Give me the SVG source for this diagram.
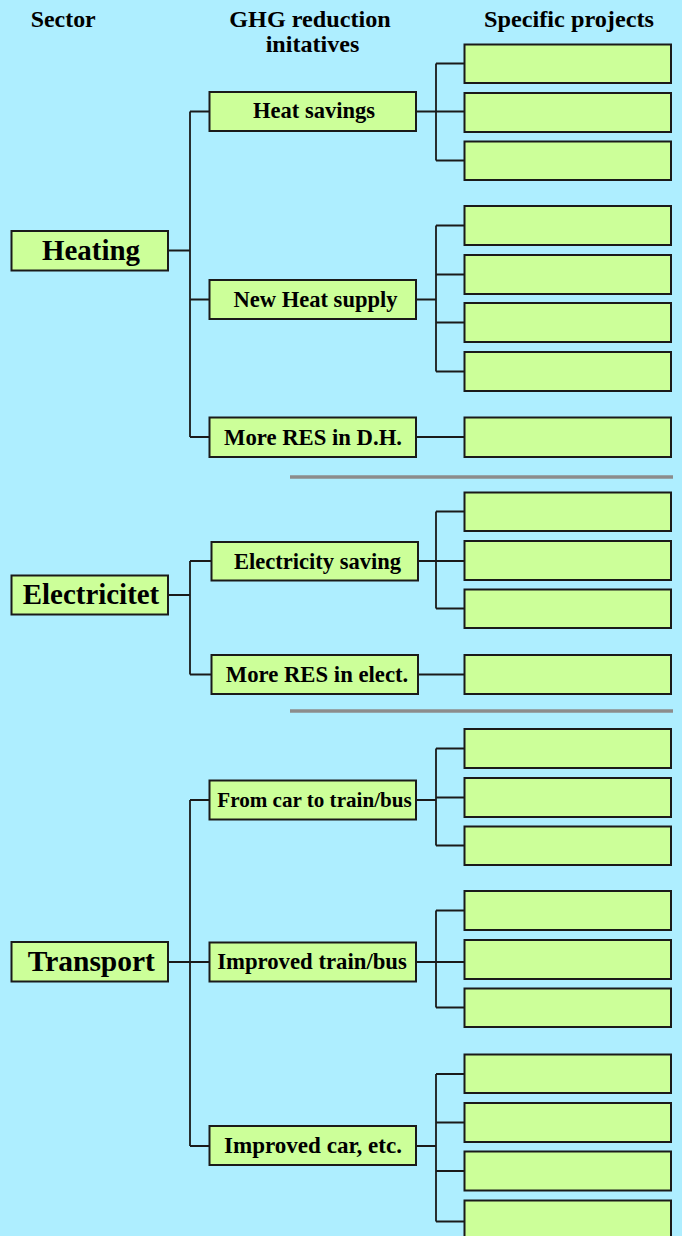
<svg xmlns="http://www.w3.org/2000/svg" width="682" height="1236" viewBox="0 0 682 1236">
<style>
.bg{fill:#AEEEFF}
.box{fill:#CCFF99;stroke:#1a1a1a;stroke-width:2}
.ln{fill:none;stroke:#1a1a1a;stroke-width:1.8}
.sep{stroke:#8C8C8C;stroke-width:3.5}
text{font-family:"Liberation Serif","Times New Roman",serif;font-weight:bold;fill:#000;text-anchor:middle}
.h{font-size:24px}
.s{font-size:30px}
.i{font-size:23px}
</style>
<rect class="bg" x="0" y="0" width="682" height="1236"/>
<g id="headers">
<text class="h" x="63.2" y="27" textLength="65" lengthAdjust="spacingAndGlyphs">Sector</text>
<text class="h" x="310" y="27" textLength="161.4" lengthAdjust="spacingAndGlyphs">GHG reduction</text>
<text class="h" x="312.5" y="51.5" textLength="93.6" lengthAdjust="spacingAndGlyphs">initatives</text>
<text class="h" x="569" y="27" textLength="170" lengthAdjust="spacingAndGlyphs">Specific projects</text>
</g>
<g id="connectors">
<path class="ln" d="M168 250.5H190M190 111.5V437M190 111.5H209M190 299.5H209M190 437H209"/>
<path class="ln" d="M416 111.5H464M436 63.5V160.5M436 63.5H464M436 160.5H464"/>
<path class="ln" d="M416 299.5H436M436 225.5V371.5M436 225.5H464M436 274.5H464M436 322.5H464M436 371.5H464"/>
<path class="ln" d="M416 437H464"/>
<path class="ln" d="M168 595H190M190 561V674.5M190 561H211M190 674.5H211"/>
<path class="ln" d="M418 561H464M436 511.5V608.5M436 511.5H464M436 608.5H464"/>
<path class="ln" d="M418 674.5H464"/>
<path class="ln" d="M168 962H209M190 800V1146M190 800H209M190 1146H209"/>
<path class="ln" d="M416 800H436M436 748.5V845.5M436 748.5H464M436 797.5H464M436 845.5H464"/>
<path class="ln" d="M416 962H464M436 910.5V1007.5M436 910.5H464M436 1007.5H464"/>
<path class="ln" d="M416 1146H436M436 1074V1221.5M436 1074H464M436 1122.5H464M436 1171H464M436 1221.5H464"/>
</g>
<g id="separators">
<line class="sep" x1="290" y1="477" x2="673" y2="477"/>
<line class="sep" x1="290" y1="711" x2="673" y2="711"/>
</g>
<g id="heating">
<rect class="box" x="11.5" y="231" width="156.5" height="39.5"/>
<text class="s" x="91" y="259.5" textLength="98" lengthAdjust="spacingAndGlyphs">Heating</text>
</g>
<g id="heat-savings">
<rect class="box" x="209.5" y="92" width="206.5" height="39"/>
<text class="i" x="314" y="118" textLength="122" lengthAdjust="spacingAndGlyphs">Heat savings</text>
</g>
<g id="new-heat-supply">
<rect class="box" x="209.5" y="280" width="206.5" height="39"/>
<text class="i" x="315.5" y="306.5" textLength="164" lengthAdjust="spacingAndGlyphs">New Heat supply</text>
</g>
<g id="more-res-dh">
<rect class="box" x="209.5" y="417.5" width="206.5" height="39.5"/>
<text class="i" x="313" y="444.5" textLength="178" lengthAdjust="spacingAndGlyphs">More RES in D.H.</text>
</g>
<g id="electricitet">
<rect class="box" x="11.5" y="575.5" width="156.5" height="39"/>
<text class="s" x="91" y="603.5" textLength="136.5" lengthAdjust="spacingAndGlyphs">Electricitet</text>
</g>
<g id="electricity-saving">
<rect class="box" x="211.5" y="542" width="206.5" height="38.5"/>
<text class="i" x="317.5" y="568.5" textLength="167" lengthAdjust="spacingAndGlyphs">Electricity saving</text>
</g>
<g id="more-res-elect">
<rect class="box" x="211.5" y="655" width="206.5" height="39"/>
<text class="i" x="317" y="681.5" textLength="182.5" lengthAdjust="spacingAndGlyphs">More RES in elect.</text>
</g>
<g id="transport">
<rect class="box" x="11.5" y="942" width="156.5" height="39.5"/>
<text class="s" x="91.3" y="970.5" textLength="127.3" lengthAdjust="spacingAndGlyphs">Transport</text>
</g>
<g id="car-to-train">
<rect class="box" x="209.5" y="780.5" width="206.5" height="39"/>
<text class="i" x="314.5" y="806.5" textLength="194.4" lengthAdjust="spacingAndGlyphs" style="font-size:22px">From car to train/bus</text>
</g>
<g id="improved-train">
<rect class="box" x="209.5" y="942.5" width="206.5" height="39"/>
<text class="i" x="312" y="969" textLength="189.7" lengthAdjust="spacingAndGlyphs">Improved train/bus</text>
</g>
<g id="improved-car">
<rect class="box" x="209.5" y="1126" width="206.5" height="39"/>
<text class="i" x="313" y="1152.5" textLength="178" lengthAdjust="spacingAndGlyphs">Improved car, etc.</text>
</g>
<g id="projects">
<rect class="box" x="464.5" y="44.5" width="206.5" height="38.5"/>
<rect class="box" x="464.5" y="93" width="206.5" height="39"/>
<rect class="box" x="464.5" y="141.5" width="206.5" height="38.5"/>
<rect class="box" x="464.5" y="206" width="206.5" height="39"/>
<rect class="box" x="464.5" y="255" width="206.5" height="39"/>
<rect class="box" x="464.5" y="303" width="206.5" height="39"/>
<rect class="box" x="464.5" y="352" width="206.5" height="39"/>
<rect class="box" x="464.5" y="417.5" width="206.5" height="39.5"/>
<rect class="box" x="464.5" y="492.5" width="206.5" height="38.5"/>
<rect class="box" x="464.5" y="541" width="206.5" height="39"/>
<rect class="box" x="464.5" y="589.5" width="206.5" height="38.5"/>
<rect class="box" x="464.5" y="655" width="206.5" height="39"/>
<rect class="box" x="464.5" y="729" width="206.5" height="39"/>
<rect class="box" x="464.5" y="778" width="206.5" height="39"/>
<rect class="box" x="464.5" y="826.5" width="206.5" height="38.5"/>
<rect class="box" x="464.5" y="891" width="206.5" height="39"/>
<rect class="box" x="464.5" y="940" width="206.5" height="39"/>
<rect class="box" x="464.5" y="988.5" width="206.5" height="38.5"/>
<rect class="box" x="464.5" y="1054.5" width="206.5" height="38.5"/>
<rect class="box" x="464.5" y="1103" width="206.5" height="39"/>
<rect class="box" x="464.5" y="1151.5" width="206.5" height="39"/>
<rect class="box" x="464.5" y="1200.5" width="206.5" height="40"/>
</g>
</svg>
